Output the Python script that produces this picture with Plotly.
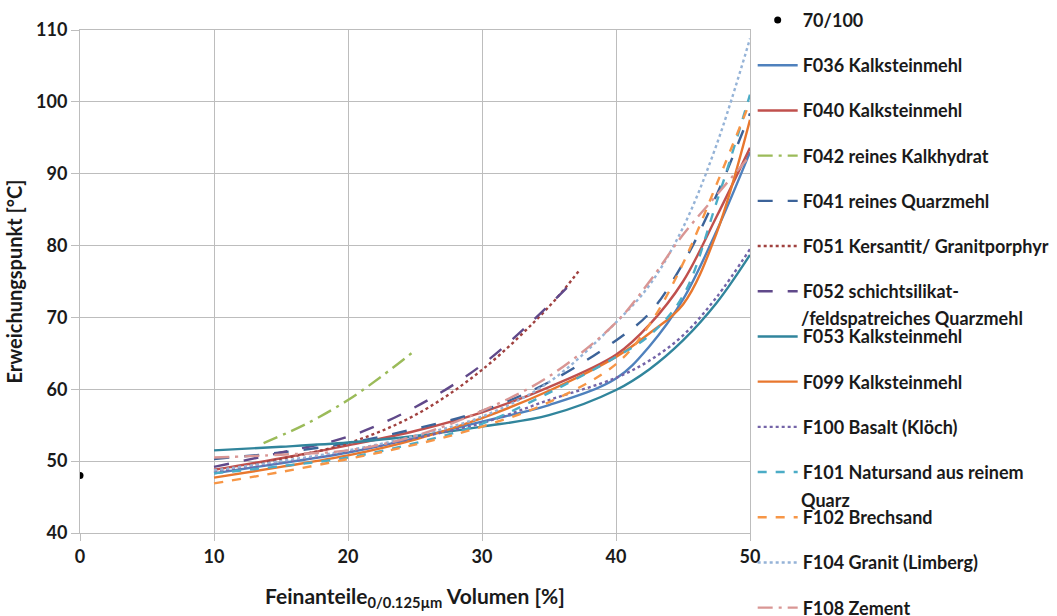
import plotly.graph_objects as go

FONT = "Lato"

# ---------------- data ----------------
ref_x = [0]
ref_y = [48.0]

x_full = [10, 15, 20, 25, 30, 35, 40, 42.5, 45, 47.5, 50]
f036 = [48.3, 49.7, 51.2, 53.2, 55.5, 57.8, 61.5, 66.0, 72.5, 82.0, 93.0]
f040 = [48.8, 50.4, 52.2, 54.2, 56.8, 60.3, 64.8, 69.0, 75.0, 84.0, 93.6]
f041 = [50.3, 51.2, 52.5, 54.5, 57.0, 61.0, 66.8, 70.6, 77.5, 87.0, 98.4]
f053 = [51.5, 52.0, 52.6, 53.5, 54.8, 56.4, 59.9, 62.8, 66.8, 72.0, 78.7]
f099 = [47.7, 49.2, 50.8, 53.0, 56.0, 59.8, 64.5, 67.8, 71.8, 81.7, 97.5]
f100 = [48.5, 49.8, 51.3, 53.2, 55.3, 58.5, 61.6, 64.0, 67.5, 72.8, 79.5]
f101 = [48.3, 49.3, 50.5, 52.5, 55.2, 59.5, 64.5, 67.5, 73.0, 86.0, 101.0]
f102 = [46.9, 48.5, 50.3, 52.3, 54.8, 58.2, 63.5, 69.0, 77.5, 88.5, 100.0]
f104 = [48.7, 50.0, 51.5, 53.5, 56.2, 61.0, 69.3, 74.5, 82.5, 94.0, 108.8]
f108 = [50.5, 50.9, 51.5, 53.5, 57.0, 61.8, 69.3, 75.0, 81.5, 87.0, 92.5]

x_f042 = [13.7, 17, 20, 22.5, 25]
f042 = [52.5, 55.3, 58.5, 61.8, 65.4]

x_f051 = [10, 15, 20, 25, 30, 35, 37.2]
f051 = [48.5, 50.3, 52.5, 56.4, 62.7, 71.5, 76.4]

x_f052 = [10, 15, 20, 25, 30, 35, 37.0]
f052 = [49.2, 51.2, 53.4, 57.5, 63.4, 71.7, 75.4]

x_ticks = [0, 10, 20, 30, 40, 50]
y_ticks = [40, 50, 60, 70, 80, 90, 100, 110]

series = [
    ("F036 Kalksteinmehl", x_full, f036, "#4F81BD", "solid"),
    ("F040 Kalksteinmehl", x_full, f040, "#C0504D", "solid"),
    ("F042 reines Kalkhydrat", x_f042, f042, "#9BBB59", "longdashdot"),
    ("F041 reines Quarzmehl", x_full, f041, "#3C6399", "longdash"),
    ("F051 Kersantit/ Granitporphyr", x_f051, f051, "#A0413F", "dot"),
    ("F052 schichtsilikat-", x_f052, f052, "#60498A", "longdash"),
    ("F053 Kalksteinmehl", x_full, f053, "#31859C", "solid"),
    ("F099 Kalksteinmehl", x_full, f099, "#E8772E", "solid"),
    ("F100 Basalt (Klöch)", x_full, f100, "#7464A8", "dot"),
    ("F101 Natursand aus reinem", x_full, f101, "#4BACC6", "dash"),
    ("F102 Brechsand", x_full, f102, "#F79646", "dash"),
    ("F104 Granit (Limberg)", x_full, f104, "#95B3D7", "dot"),
    ("F108 Zement", x_full, f108, "#D99694", "longdashdot"),
]

fig = go.Figure()
fig.add_trace(go.Scatter(
    x=ref_x, y=ref_y, mode="markers", name="70/100",
    marker=dict(color="black", size=7), legendgroup="g00"))

for i, (name, xs, ys, col, dash) in enumerate(series):
    fig.add_trace(go.Scatter(
        x=xs, y=ys, mode="lines", name=name, legendgroup=f"g{i+1:02d}",
        line=dict(color=col, width=2.4, dash=dash, shape="spline", smoothing=1.0)))

grid = "#BDBDBD"
tickfont = dict(family=FONT, size=18, color="#1A1A1A", weight="bold")
legfont = dict(family=FONT, size=18, color="#1A1A1A", weight="bold")

fig.update_xaxes(
    range=[0, 50], tickvals=x_ticks, showgrid=True, gridcolor=grid, gridwidth=1,
    zeroline=False, showline=True, linecolor=grid, mirror=True,
    ticks="outside", ticklen=7, tickcolor=grid, tickfont=tickfont,
    title=dict(text="Feinanteile<sub>0/0.125µm</sub> Volumen [%]",
               font=dict(family=FONT, size=21, color="#1A1A1A", weight="bold"),
               standoff=23))
fig.update_yaxes(
    range=[40, 110], tickvals=y_ticks, showgrid=True, gridcolor=grid, gridwidth=1,
    zeroline=False, showline=True, linecolor=grid, mirror=True,
    ticks="outside", ticklen=8, tickcolor=grid, tickfont=tickfont,
    title=dict(text="Erweichungspunkt [°C]",
               font=dict(family=FONT, size=20, color="#1A1A1A", weight="bold"),
               standoff=8))

fig.add_annotation(x=1.079, y=0.4274, xref="paper", yref="paper",
                   text="/feldspatreiches Quarzmehl", showarrow=False,
                   xanchor="left", yanchor="middle", xshift=-4,
                   font=legfont)
fig.add_annotation(x=1.079, y=0.0656, xref="paper", yref="paper",
                   text="Quarz", showarrow=False,
                   xanchor="left", yanchor="middle", xshift=-4,
                   font=legfont)

fig.update_layout(
    width=1057, height=616,
    margin=dict(l=80, r=307, t=30, b=83, autoexpand=False),
    paper_bgcolor="white", plot_bgcolor="white",
    showlegend=True,
    legend=dict(x=1.004, xanchor="left", y=1.056, yanchor="top",
                xref="paper", yref="paper",
                font=legfont,
                bgcolor="rgba(0,0,0,0)", tracegroupgap=18.8, itemwidth=40,
                maxheight=1000, traceorder="grouped"),
)

fig.write_html("out.html")
